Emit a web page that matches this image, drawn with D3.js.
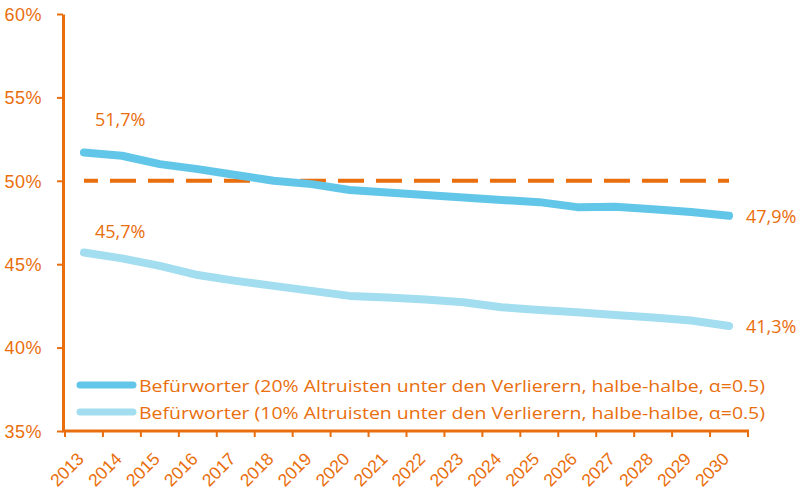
<!DOCTYPE html>
<html><head><meta charset="utf-8">
<script src="https://cdn.jsdelivr.net/npm/d3@7"></script>
<style>
html,body{margin:0;padding:0;background:#fff;}
svg{display:block;font-family:"Open Sans",sans-serif;}
</style></head>
<body><div id="chart"></div>
<script>
const years = ["2013","2014","2015","2016","2017","2018","2019","2020","2021","2022","2023","2024","2025","2026","2027","2028","2029","2030"];
const series20 = [51.7,51.5,51.0,50.7,50.35,50.0,49.8,49.45,49.3,49.15,49.0,48.85,48.72,48.42,48.45,48.3,48.13,47.9];
const series10 = [45.7,45.35,44.9,44.35,44.0,43.7,43.4,43.1,43.0,42.88,42.72,42.42,42.26,42.12,41.96,41.8,41.62,41.3];
const reference = years.map(() => 50);
const yTicks = [35,40,45,50,55,60];
const legendLabels = [
  "Befürworter (20% Altruisten unter den Verlierern, halbe-halbe, α=0.5)",
  "Befürworter (10% Altruisten unter den Verlierern, halbe-halbe, α=0.5)"
];
const labelFirst = ["51,7%","45,7%"];
const labelLast = ["47,9%","41,3%"];

const W = 800, H = 493;
const orange = "#e96e0d", dark = "#62c6e8", light = "#a2ddf0";
const svg = d3.select("#chart").append("svg").attr("width", W).attr("height", H);

const x = d3.scaleBand().domain(years).range([65, 748]);
const y = d3.scaleLinear().domain([35, 60]).range([431, 14]);
const cx = d => x(d) + x.bandwidth()/2;

// y axis
const yAxis = svg.append("g").attr("transform","translate(63,0)")
  .call(d3.axisLeft(y).tickValues(yTicks).tickFormat(d => d + "%").tickSize(6).tickSizeOuter(0));
yAxis.select(".domain").attr("stroke", orange).attr("stroke-width", 3);
yAxis.selectAll(".tick line").attr("stroke", orange).attr("stroke-width", 2);
yAxis.selectAll(".tick text").attr("fill", orange).attr("font-size", 18).attr("x", -21).attr("dy","0.35em")
  .attr("letter-spacing", 0.5);

// x axis
const xAxis = svg.append("g").attr("transform","translate(0,431)")
  .call(d3.axisBottom(x).tickSize(0).tickSizeOuter(0));
xAxis.select(".domain").attr("stroke", orange).attr("stroke-width", 3).attr("d", "M62,0H749");
xAxis.selectAll(".tick line").remove();
const edges = years.map(d => x(d)).concat([x(years[years.length-1]) + x.bandwidth()]);
xAxis.selectAll(".edge").data(edges).join("line").attr("class","edge")
  .attr("x1", d => d).attr("x2", d => d).attr("y1", 0).attr("y2", 6)
  .attr("stroke", orange).attr("stroke-width", 2);
xAxis.selectAll(".tick text").attr("fill", orange).attr("font-size", 17.5)
  .attr("text-anchor","end").attr("x", 0).attr("y", 0).attr("dy", 0)
  .attr("transform","translate(1,29) rotate(-45)");

// reference dashed line
const line = d3.line().x((d,i) => cx(years[i])).y(d => y(d));
svg.append("path").datum(reference).attr("d", line).attr("fill","none")
  .attr("stroke", orange).attr("stroke-width", 4)
  .attr("stroke-dasharray","26,12").attr("stroke-dashoffset", 12);

// series
[[series10, light],[series20, dark]].forEach(([s, c]) => {
  svg.append("path").datum(s).attr("d", line).attr("fill","none")
    .attr("stroke", c).attr("stroke-width", 8).attr("stroke-linecap","round").attr("stroke-linejoin","round");
});

// data labels
const firstOffsets = [-26.5, -14.5];
[series20, series10].forEach((s, i) => {
  svg.append("text").attr("x", cx(years[0]) + 11).attr("y", y(s[0]) + firstOffsets[i])
    .attr("fill", orange).attr("font-size", 18).text(labelFirst[i]);
  svg.append("text").attr("x", cx(years[years.length-1]) + 17).attr("y", y(s[s.length-1]) + 7)
    .attr("fill", orange).attr("font-size", 18).text(labelLast[i]);
});

// legend
[dark, light].forEach((c, i) => {
  const ly = 385 + i*27;
  svg.append("line").attr("x1", 80).attr("x2", 133).attr("y1", ly).attr("y2", ly)
    .attr("stroke", c).attr("stroke-width", 7).attr("stroke-linecap","round");
  svg.append("text").attr("x", 139).attr("y", ly + 7).attr("fill", orange)
    .attr("font-size", 17).attr("textLength", 626).attr("lengthAdjust", "spacingAndGlyphs")
    .text(legendLabels[i]);
});
</script></body></html>
